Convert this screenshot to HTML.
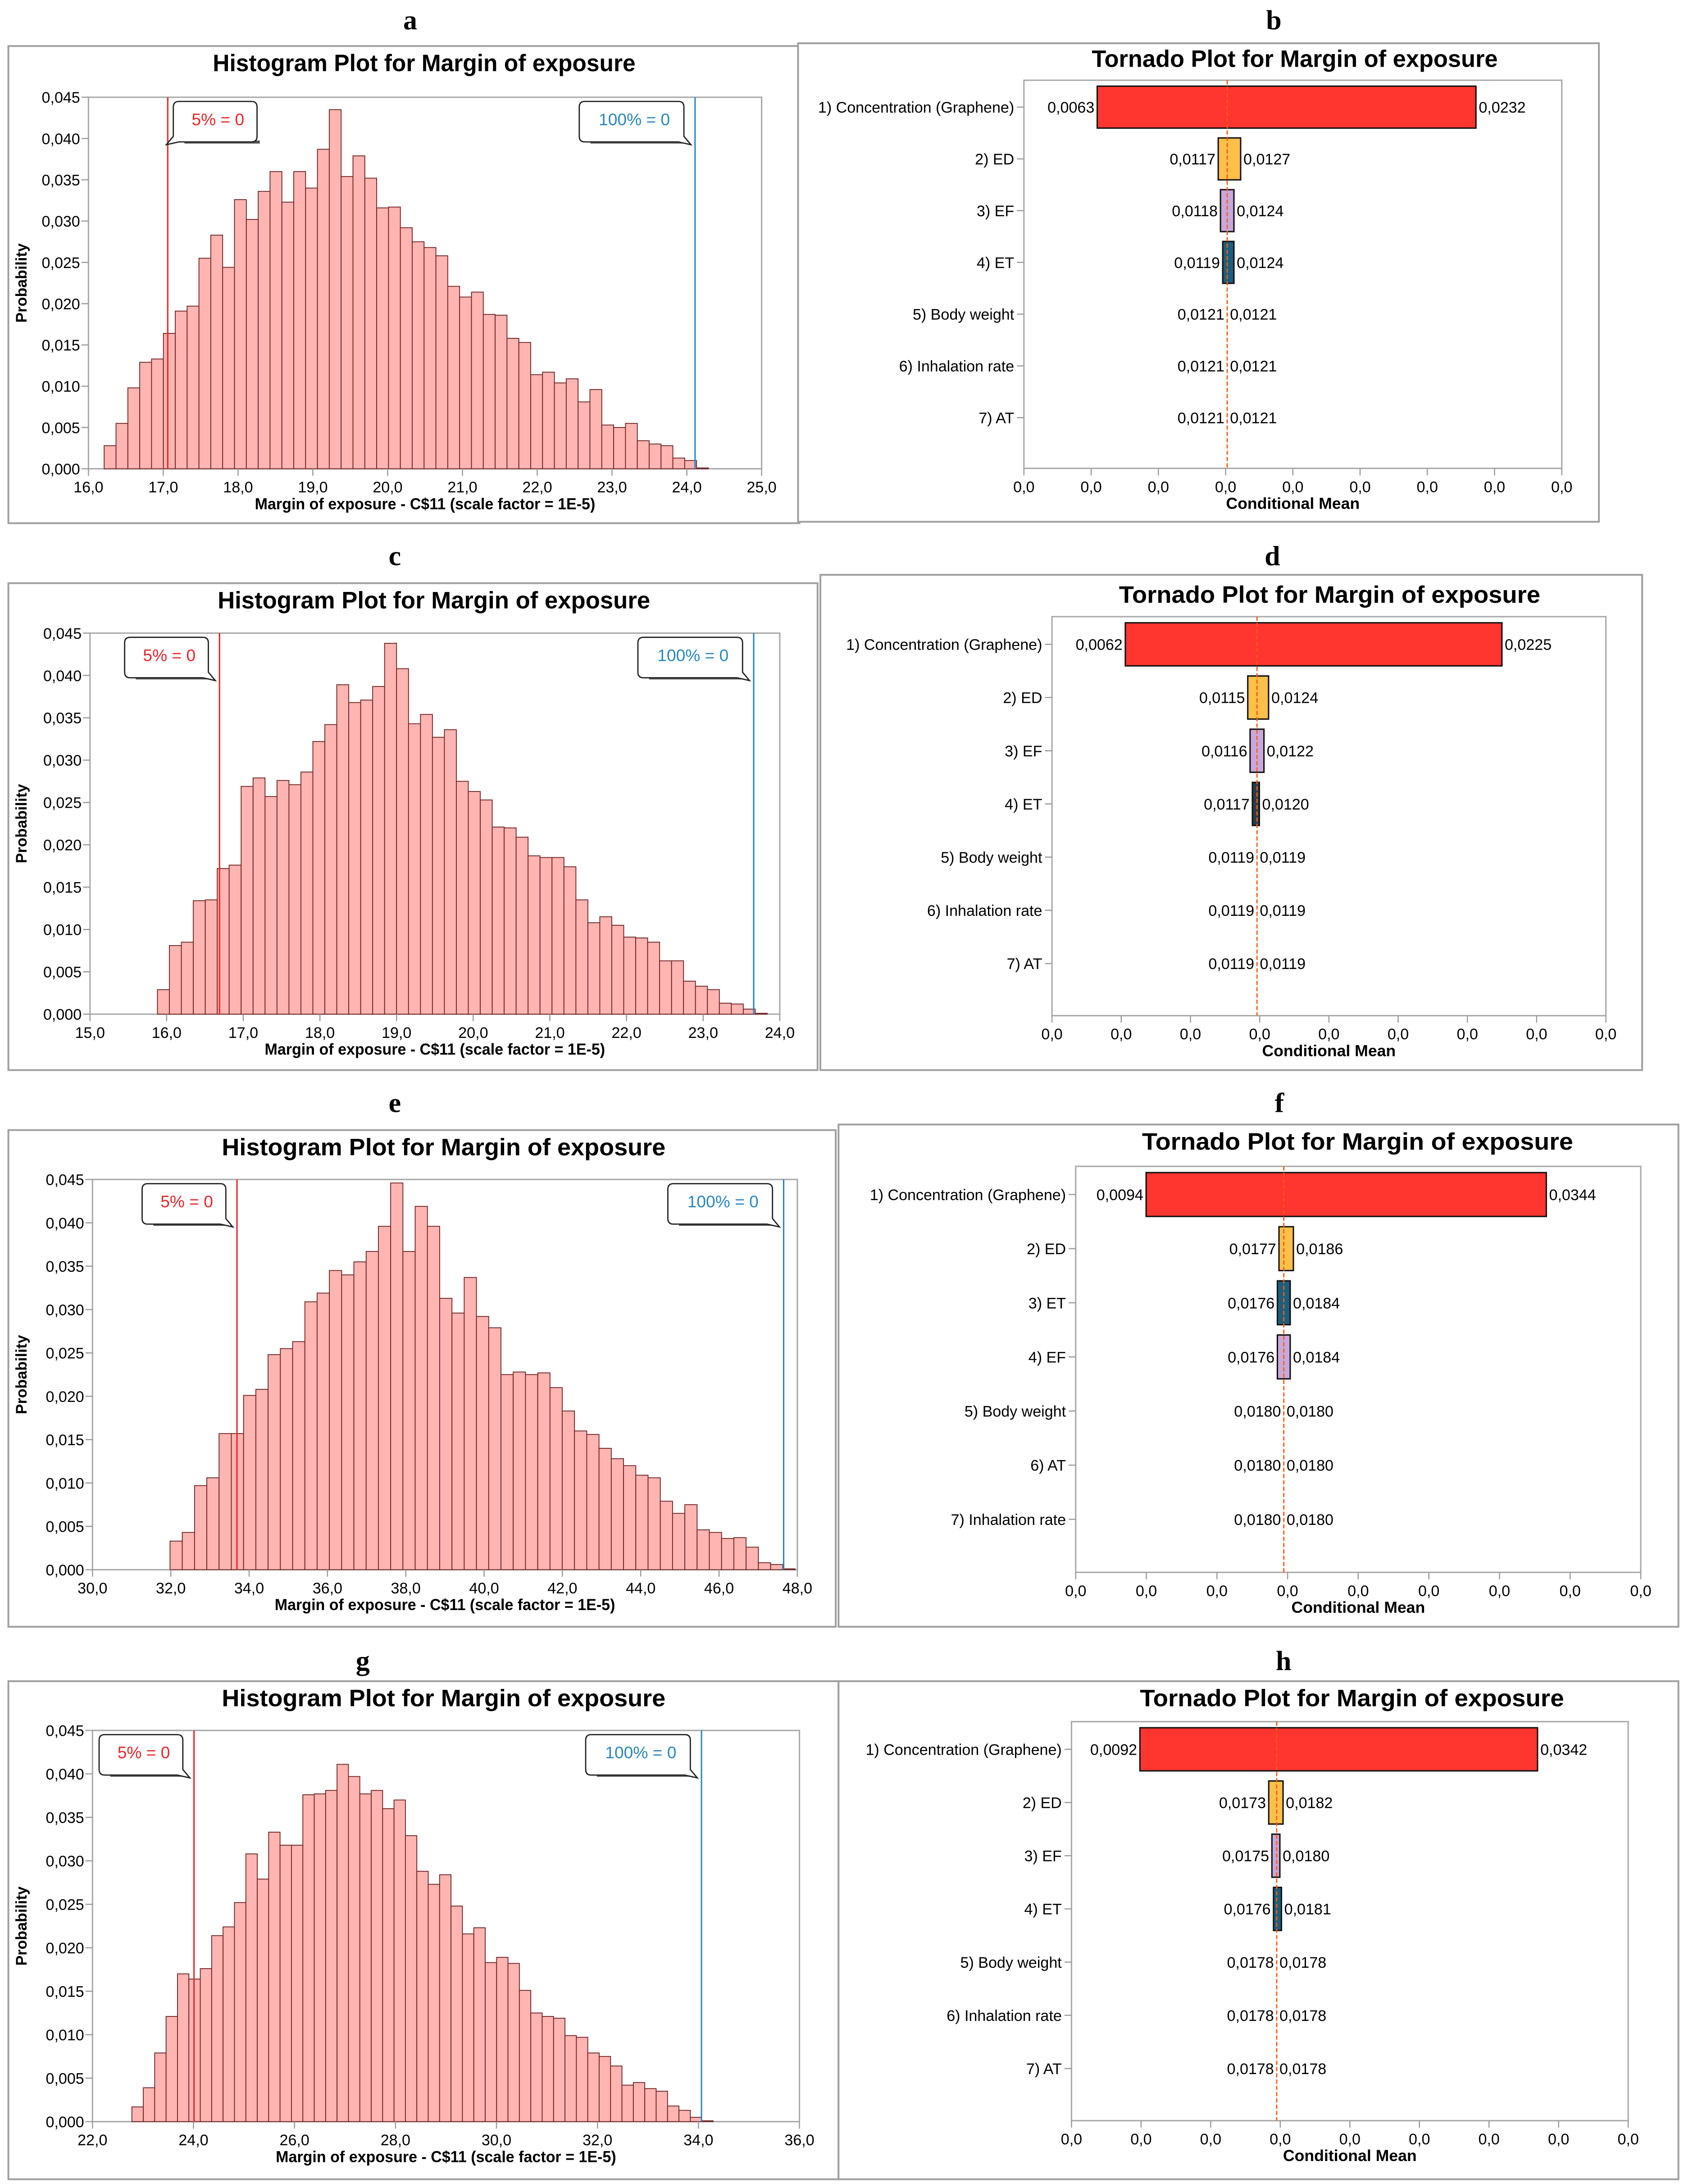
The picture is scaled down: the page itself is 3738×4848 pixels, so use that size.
<!DOCTYPE html>
<html><head><meta charset="utf-8"><style>
html,body{margin:0;padding:0;background:#fff;}
svg{display:block;}
text{font-family:"Liberation Sans Narrow","Liberation Sans",sans-serif;}
</style></head>
<body>
<svg id="chart" xmlns="http://www.w3.org/2000/svg" width="3738" height="4848" viewBox="0 0 1207 1565.4" preserveAspectRatio="none"></svg>
<script>
// ---------- DATA ----------
const yTicks=[0,0.005,0.010,0.015,0.020,0.025,0.030,0.035,0.040,0.045];
const yTickLabels=['0,000','0,005','0,010','0,015','0,020','0,025','0,030','0,035','0,040','0,045'];

const histAValues=[0.0028,0.0055,0.0098,0.0129,0.0133,0.0164,0.0191,0.0197,0.0255,0.0283,0.0244,0.0326,0.0302,0.0336,0.0360,0.0323,0.0360,0.0340,0.0387,0.0435,0.0354,0.0379,0.0352,0.0316,0.0317,0.0292,0.0275,0.0268,0.0258,0.0221,0.0208,0.0214,0.0187,0.0186,0.0158,0.0153,0.0114,0.0117,0.0104,0.0109,0.0081,0.0096,0.0053,0.0050,0.0055,0.0034,0.0030,0.0028,0.0013,0.0010,0.0001];
const histABinStart=16.21, histABinWidth=0.1584;
const histAXTicks=[16,17,18,19,20,21,22,23,24,25];
const histAMarkers=[17.06,24.11];

const histCValues=[0.0029,0.0081,0.0085,0.0134,0.0135,0.0172,0.0176,0.0269,0.0279,0.0257,0.0276,0.0271,0.0286,0.0322,0.0342,0.0389,0.0368,0.0371,0.0387,0.0438,0.0408,0.0343,0.0354,0.0327,0.0336,0.0275,0.0263,0.0253,0.0221,0.0220,0.0209,0.0187,0.0185,0.0185,0.0174,0.0135,0.0108,0.0115,0.0105,0.0091,0.0090,0.0085,0.0063,0.0063,0.0039,0.0033,0.0029,0.0013,0.0012,0.0006,0.0001];
const histCBinStart=15.88, histCBinWidth=0.156;
const histCXTicks=[15,16,17,18,19,20,21,22,23,24];
const histCMarkers=[16.69,23.66];

const histEValues=[0.0033,0.0043,0.0097,0.0106,0.0157,0.0157,0.0201,0.0208,0.0248,0.0255,0.0263,0.0309,0.0319,0.0345,0.0340,0.0355,0.0367,0.0396,0.0446,0.0367,0.0419,0.0396,0.0313,0.0296,0.0337,0.0292,0.0279,0.0225,0.0228,0.0225,0.0227,0.0210,0.0183,0.0160,0.0156,0.0140,0.0128,0.0120,0.0109,0.0106,0.0079,0.0065,0.0075,0.0046,0.0043,0.0036,0.0037,0.0026,0.0008,0.0006,0.0001];
const histEBinStart=31.98, histEBinWidth=0.313;
const histEXTicks=[30,32,34,36,38,40,42,44,46,48];
const histEMarkers=[33.69,47.65];

const histGValues=[0.0017,0.0039,0.0079,0.0121,0.0170,0.0164,0.0176,0.0214,0.0224,0.0252,0.0308,0.0279,0.0333,0.0318,0.0318,0.0376,0.0377,0.0381,0.0411,0.0397,0.0377,0.0381,0.0360,0.0370,0.0329,0.0288,0.0273,0.0284,0.0248,0.0216,0.0223,0.0183,0.0189,0.0182,0.0151,0.0125,0.0121,0.0119,0.0099,0.0097,0.0079,0.0075,0.0064,0.0042,0.0045,0.0038,0.0035,0.0018,0.0013,0.0005,0.0001];
const histGBinStart=22.78, histGBinWidth=0.2257;
const histGXTicks=[22,24,26,28,30,32,34,36];
const histGMarkers=[24.01,34.06];

const tornBLabels=['1) Concentration (Graphene)','2) ED','3) EF','4) ET','5) Body weight','6) Inhalation rate','7) AT'];
const tornBLow=[0.0063,0.0117,0.0118,0.0119,0.0121,0.0121,0.0121];
const tornBHigh=[0.0232,0.0127,0.0124,0.0124,0.0121,0.0121,0.0121];
const tornBBase=0.0121;

const tornDLabels=['1) Concentration (Graphene)','2) ED','3) EF','4) ET','5) Body weight','6) Inhalation rate','7) AT'];
const tornDLow=[0.0062,0.0115,0.0116,0.0117,0.0119,0.0119,0.0119];
const tornDHigh=[0.0225,0.0124,0.0122,0.0120,0.0119,0.0119,0.0119];
const tornDBase=0.0119;

const tornFLabels=['1) Concentration (Graphene)','2) ED','3) ET','4) EF','5) Body weight','6) AT','7) Inhalation rate'];
const tornFLow=[0.0094,0.0177,0.0176,0.0176,0.0180,0.0180,0.0180];
const tornFHigh=[0.0344,0.0186,0.0184,0.0184,0.0180,0.0180,0.0180];
const tornFBase=0.0180;

const tornHLabels=['1) Concentration (Graphene)','2) ED','3) EF','4) ET','5) Body weight','6) Inhalation rate','7) AT'];
const tornHLow=[0.0092,0.0173,0.0175,0.0176,0.0178,0.0178,0.0178];
const tornHHigh=[0.0342,0.0182,0.0180,0.0181,0.0178,0.0178,0.0178];
const tornHBase=0.0178;

// ---------- DRAWING ----------
const NS='http://www.w3.org/2000/svg';
const svg=document.getElementById('chart');
function mk(tag,attrs,parent){const e=document.createElementNS(NS,tag);for(const k in attrs)e.setAttribute(k,attrs[k]);(parent||svg).appendChild(e);return e;}
function fmt(v,d){return v.toFixed(d).replace('.',',');}

function frame(name,x0,y0,x1,y1){
  const r=mk('rect',{x:x0,y:y0,width:x1-x0,height:y1-y0,fill:'#fff',stroke:'#a0a0a0','stroke-width':1.3});
  
  
}
function letter(ch,x,y){
  const t=mk('text',{x:x,y:y,'text-anchor':'middle','font-size':20,'font-weight':'bold',style:'font-family:"Liberation Serif",serif'});
  t.textContent=ch;
  
  
}
function title(str,cx,y,len,name){
  const t=mk('text',{x:cx,y:y,'text-anchor':'middle','font-size':17,'font-weight':'bold',textLength:len,lengthAdjust:'spacingAndGlyphs'});
  t.textContent=str;
  
  
}

function callout(g,txt,color,x0,y0,w,tailRight,name){
  const grp=mk('g',{},g);
  
  
  const h=29;
  const sh=mk('rect',{x:x0+4,y:y0+h-1,width:w-2,height:2.2,fill:'#555'},grp);
  
  
  const bx=mk('path',{d:tailRight?
     `M${x0+4} ${y0} h${w-8} q4 0 4 4 v${h-8} l5 6 l-9 -2 h-${w-4} q-4 0 -4 -4 v-${h-8} q0 -4 4 -4 z`:
     `M${x0+4} ${y0} h${w-8} q4 0 4 4 v${h-8} q0 4 -4 4 h-${w-4} l-9 2 l5 -6 v-${h-8} q0 -4 4 -4 z`,
     fill:'#fff',stroke:'#222','stroke-width':0.9},grp);
  
  
  const t=mk('text',{x:x0+w/2,y:y0+17,'text-anchor':'middle','font-size':12,fill:color},grp);
  t.textContent=txt;
  
  
}

function drawHist(id,B,xmin,xmax,xticks,values,binStart,binWidth,markers,redRight){
  const g=mk('g',{});
  
  
  const sx=v=>B.l+(v-xmin)/(xmax-xmin)*(B.r-B.l);
  const sy=v=>B.b-(v/0.045)*(B.b-B.t);
  const pa=mk('rect',{x:B.l,y:B.t,width:B.r-B.l,height:B.b-B.t,fill:'#fff',stroke:'#a9a9a9','stroke-width':1},g);
  
  
  values.forEach((v,i)=>{
    const x0=sx(binStart+i*binWidth),x1=sx(binStart+(i+1)*binWidth);
    const r=mk('rect',{x:x0,y:sy(v),width:x1-x0,height:B.b-sy(v),fill:'#ffb5b2',stroke:'#6e2424','stroke-width':0.6},g);
    
    
  });
  yTicks.forEach((v,i)=>{
    const y=sy(v);
    const tk=mk('line',{x1:B.l-5,x2:B.l,y1:y,y2:y,stroke:'#999','stroke-width':0.8},g);
    
    
    const t=mk('text',{x:B.l-6,y:y+4,'text-anchor':'end','font-size':11},g);
    t.textContent=yTickLabels[i];
    
    
  });
  xticks.forEach(v=>{
    const x=sx(v);
    const tk=mk('line',{x1:x,x2:x,y1:B.b,y2:B.b+5,stroke:'#999','stroke-width':0.8},g);
    
    
    const t=mk('text',{x:x,y:B.b+17,'text-anchor':'middle','font-size':11},g);
    t.textContent=fmt(v,1);
    
    
  });
  const rl=mk('line',{x1:sx(markers[0]),x2:sx(markers[0]),y1:B.t,y2:B.b,stroke:'#e8262a','stroke-width':1},g);
  
  
  const bl=mk('line',{x1:sx(markers[1]),x2:sx(markers[1]),y1:B.t,y2:B.b,stroke:'#2a86c0','stroke-width':1},g);
  
  
  if(redRight) callout(g,'5% = 0','#e8262a',sx(markers[0])+8,B.t+3,56,false,'callout-5-'+id);
  else callout(g,'5% = 0','#e8262a',sx(markers[0])-64,B.t+3,56,true,'callout-5-'+id);
  callout(g,'100% = 0','#2a86c0',sx(markers[1])-79,B.t+3,71,true,'callout-100-'+id);
  const xt=mk('text',{x:(B.l+B.r)/2,y:B.b+29,'text-anchor':'middle','font-size':11.5,'font-weight':'bold',textLength:244,lengthAdjust:'spacingAndGlyphs'},g);
  xt.textContent='Margin of exposure - C$11 (scale factor = 1E-5)';
  
  
  const cy=(B.t+B.b)/2;
  const yt=mk('text',{x:19,y:cy,'text-anchor':'middle','font-size':11,'font-weight':'bold',transform:`rotate(-90 19 ${cy})`,style:'font-family:"Liberation Sans",sans-serif'},g);
  yt.textContent='Probability';
  
  
}

function drawTornado(id,B,xmin,xmax,labels,low,high,base,colors){
  const g=mk('g',{});
  
  
  const sx=v=>B.l+(v-xmin)/(xmax-xmin)*(B.r-B.l);
  const pa=mk('rect',{x:B.l,y:B.t,width:B.r-B.l,height:B.b-B.t,fill:'#fff',stroke:'#a9a9a9','stroke-width':1},g);
  
  
  const step=(B.b-B.t)/7.5, bh=step*0.81;
  const cx=sx(base);
  labels.forEach((lab,i)=>{
    const y=B.t+step*0.52+i*step;
    const tk=mk('line',{x1:B.l-5,x2:B.l,y1:y,y2:y,stroke:'#999','stroke-width':0.8},g);
    
    
    const t=mk('text',{x:B.l-7,y:y+4,'text-anchor':'end','font-size':11},g);
    t.textContent=lab;
    
    
    const x0=sx(low[i]),x1=sx(high[i]);
    if(x1-x0>0.5){
      const r=mk('rect',{x:x0,y:y-bh/2,width:x1-x0,height:bh,fill:colors[i],stroke:'#111','stroke-width':1},g);
      
      
    }
    const lt=mk('text',{x:Math.min(x0,cx)-2,y:y+4,'text-anchor':'end','font-size':11},g);
    lt.textContent=fmt(low[i],4);
    
    
    const ht=mk('text',{x:Math.max(x1,cx)+2,y:y+4,'text-anchor':'start','font-size':11},g);
    ht.textContent=fmt(high[i],4);
    
    
  });
  const cl=mk('line',{x1:cx,x2:cx,y1:B.t,y2:B.b,stroke:'#ff5a10','stroke-width':0.9,'stroke-dasharray':'3 1.5'},g);
  
  
  for(let k=0;k<=8;k++){
    const x=B.l+k*(B.r-B.l)/8;
    const tk=mk('line',{x1:x,x2:x,y1:B.b,y2:B.b+5,stroke:'#999','stroke-width':0.8},g);
    
    
    const t=mk('text',{x:x,y:B.b+17,'text-anchor':'middle','font-size':11},g);
    t.textContent=fmt(xmin+k*(xmax-xmin)/8,1);
    
    
  }
  const xt=mk('text',{x:(B.l+B.r)/2,y:B.b+29,'text-anchor':'middle','font-size':11.5,'font-weight':'bold'},g);
  xt.textContent='Conditional Mean';
  
  
}

const RED='#ff3530',ORA='#ffc04a',LAV='#c8a8dc',TEAL='#1c5e7c',NONE='none';

frame('panel-a-frame',6,33,573,375);
frame('panel-b-frame',572,31,1146,374);
frame('panel-c-frame',6,418,586,767);
frame('panel-d-frame',588,412,1177,767);
frame('panel-e-frame',6,810,599,1166);
frame('panel-f-frame',601,806,1203,1166);
frame('panel-g-frame',6,1205,601,1562);
frame('panel-h-frame',601,1205,1203,1562);

letter('a',294,21);letter('b',913,21);letter('c',283,405);letter('d',912,405);
letter('e',283,797);letter('f',917,797);letter('g',260,1197);letter('h',920,1197);

title('Histogram Plot for Margin of exposure',304,51,303,'title-a');
title('Tornado Plot for Margin of exposure',928,48,291,'title-b');
title('Histogram Plot for Margin of exposure',311,436,310,'title-c');
title('Tornado Plot for Margin of exposure',953,432,302,'title-d');
title('Histogram Plot for Margin of exposure',318,828,318,'title-e');
title('Tornado Plot for Margin of exposure',973,824,309,'title-f');
title('Histogram Plot for Margin of exposure',318,1223,318,'title-g');
title('Tornado Plot for Margin of exposure',969,1223,304,'title-h');

drawHist('a',{l:63.4,t:69.7,r:545.9,b:336},16,25,histAXTicks,histAValues,histABinStart,histABinWidth,histAMarkers,true);
drawHist('c',{l:64.5,t:453.8,r:558.9,b:726.9},15,24,histCXTicks,histCValues,histCBinStart,histCBinWidth,histCMarkers,false);
drawHist('e',{l:66.3,t:845.4,r:571.5,b:1125.1},30,48,histEXTicks,histEValues,histEBinStart,histEBinWidth,histEMarkers,false);
drawHist('g',{l:66.3,t:1240.3,r:573,b:1520.7},22,36,histGXTicks,histGValues,histGBinStart,histGBinWidth,histGMarkers,false);

drawTornado('b',{l:733.9,t:57.5,r:1119.4,b:335.7},0.00303,0.02703,tornBLabels,tornBLow,tornBHigh,tornBBase,[RED,ORA,LAV,TEAL,NONE,NONE,NONE]);
drawTornado('d',{l:754,t:442,r:1151,b:728},0.003025,0.0270,tornDLabels,tornDLow,tornDHigh,tornDBase,[RED,ORA,LAV,'#2a3d4a',NONE,NONE,NONE]);
drawTornado('f',{l:771,t:836,r:1176,b:1127},0.0050,0.0403,tornFLabels,tornFLow,tornFHigh,tornFBase,[RED,ORA,TEAL,LAV,NONE,NONE,NONE]);
drawTornado('h',{l:768,t:1234,r:1167,b:1520},0.0049,0.0399,tornHLabels,tornHLow,tornHHigh,tornHBase,[RED,ORA,LAV,TEAL,NONE,NONE,NONE]);
</script>
</body></html>
